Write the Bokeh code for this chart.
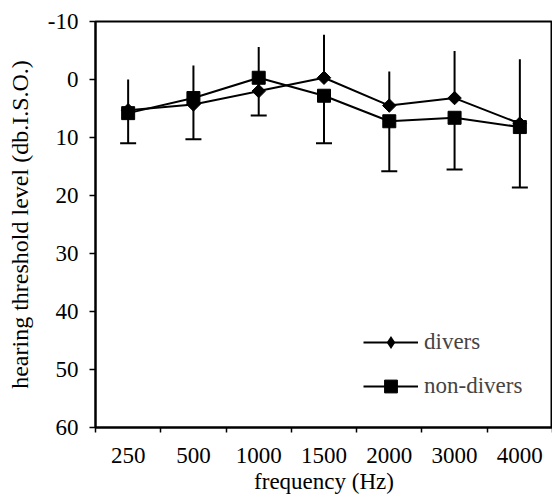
from bokeh.plotting import figure
from bokeh.models import Range1d, FixedTicker, Legend, LegendItem, ColumnDataSource
from bokeh.embed import file_html
from bokeh.resources import INLINE
import numpy as np

freqs = ["250", "500", "1000", "1500", "2000", "3000", "4000"]
divers = [5.3, 4.3, 2.0, -0.3, 4.5, 3.2, 7.6]
divers_err = [5.3, 6.7, 7.6, 7.4, 5.9, 8.1, 11.1]
non_divers = [5.8, 3.2, -0.3, 2.8, 7.2, 6.6, 8.2]
non_divers_err = [5.2, 7.1, 6.5, 8.2, 8.6, 8.9, 10.4]
y_ticks = [-10, 0, 10, 20, 30, 40, 50, 60]

FONT = "'Liberation Serif', 'Times New Roman', serif"
FS = "23px"
n = len(freqs)
xc = [i + 0.5 for i in range(n)]

src = ColumnDataSource(dict(
    x=xc,
    d=divers,
    d_top=[v - e for v, e in zip(divers, divers_err)],
    nd=non_divers,
    nd_bot=[v + e for v, e in zip(non_divers, non_divers_err)],
))

p = figure(width=552, height=498, output_backend="svg", toolbar_location=None,
           x_range=Range1d(0, n), y_range=Range1d(60, -10),
           min_border_left=95, min_border_right=0, min_border_top=21, min_border_bottom=71)
p.background_fill_color = "white"
p.border_fill_color = "white"
p.outline_line_color = "black"
p.outline_line_width = 2
p.xgrid.visible = False
p.ygrid.visible = False

# error bars
p.segment(x0="x", y0="d", x1="x", y1="d_top", source=src, line_color="black", line_width=2)
p.segment(x0="x", y0="nd", x1="x", y1="nd_bot", source=src, line_color="black", line_width=2)
p.scatter(x="x", y="nd_bot", source=src, marker="dash", size=16, line_color="black", line_width=2)

# series
l1 = p.line(x="x", y="d", source=src, line_color="black", line_width=2)
# diamond marker (hidden under the rotated squares, gives the legend sample)
s1_leg = p.scatter(x="x", y="d", source=src, marker="diamond", size=12,
                   fill_color="black", line_color=None)
s1 = p.scatter(x="x", y="d", source=src, marker="square", angle=np.pi / 4, size=9.5,
               fill_color="black", line_color="black")
l2 = p.line(x="x", y="nd", source=src, line_color="black", line_width=2)
s2 = p.scatter(x="x", y="nd", source=src, marker="square", size=13,
               fill_color="black", line_color="black")

# axes
xa = p.xaxis[0]
xa.ticker = FixedTicker(ticks=xc, minor_ticks=list(range(n + 1)))
xa.major_label_overrides = {c: f for c, f in zip(xc, freqs)}
xa.major_tick_out = 0
xa.major_tick_in = 0
xa.minor_tick_out = 5
xa.minor_tick_in = 0
xa.minor_tick_line_color = "black"
xa.minor_tick_line_width = 1.5
xa.axis_line_width = 2
xa.axis_label = "frequency (Hz)"
xa.major_label_standoff = 15

ya = p.yaxis[0]
ya.ticker = FixedTicker(ticks=y_ticks, minor_ticks=[])
ya.major_label_overrides = {t: str(t) for t in y_ticks}
ya.major_tick_out = 6
ya.major_tick_in = 0
ya.major_tick_line_width = 1.5
ya.axis_line_width = 2
ya.axis_label = "hearing threshold level (db.I.S.O.)"
ya.major_label_standoff = 11
ya.major_label_orientation = "horizontal"

for ax in (xa, ya):
    ax.axis_line_color = "black"
    ax.major_tick_line_color = "black"
    ax.major_label_text_font = FONT
    ax.major_label_text_font_size = FS
    ax.major_label_text_color = "black"
    ax.axis_label_text_font = FONT
    ax.axis_label_text_font_size = FS
    ax.axis_label_text_font_style = "normal"
    ax.axis_label_text_color = "black"
ya.axis_label_text_font_size = "24px"
xa.axis_label_standoff = 3
ya.axis_label_standoff = 12

leg1 = Legend(items=[LegendItem(label="divers", renderers=[l1, s1_leg])],
              location=(268, 69), glyph_width=55, glyph_height=32, label_height=32,
              label_standoff=6, padding=0, margin=0, border_line_color=None,
              background_fill_alpha=0, label_text_font=FONT, label_text_font_size=FS)
leg2 = Legend(items=[LegendItem(label="non-divers", renderers=[l2, s2])],
              location=(268, 25), glyph_width=55, glyph_height=32, label_height=32,
              label_standoff=6, padding=0, margin=0, border_line_color=None,
              background_fill_alpha=0, label_text_font=FONT, label_text_font_size=FS)
p.add_layout(leg1, "center")
p.add_layout(leg2, "center")

open("out.html", "w").write(file_html(p, INLINE))
